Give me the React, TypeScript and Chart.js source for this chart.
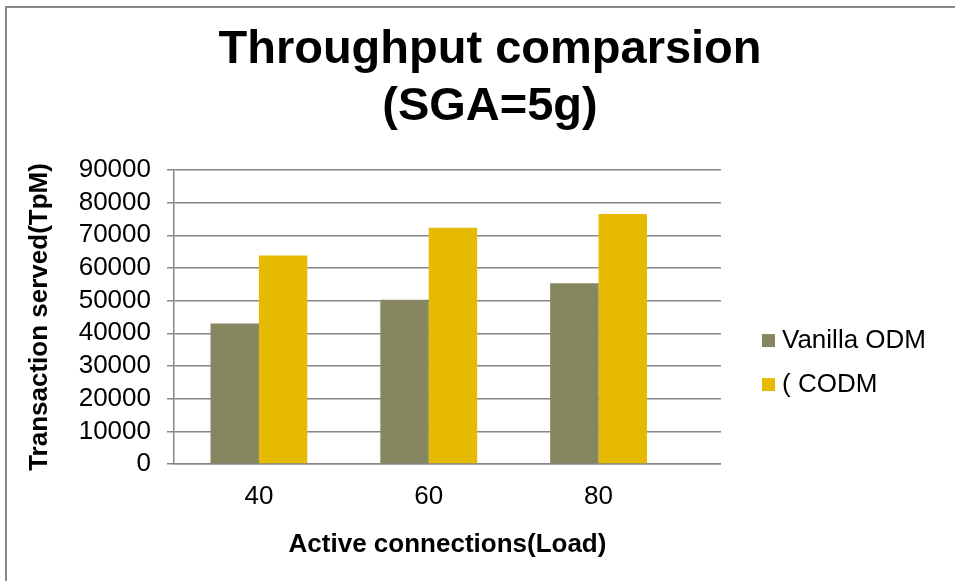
import React, { useEffect, useRef } from 'react';
import { Chart, registerables } from 'chart.js';

Chart.register(...registerables);

const categories = ['40', '60', '80'];
const vanillaODM = [43000, 50300, 55300];
const codm = [63800, 72300, 76500];
const seriesNames = ['Vanilla ODM', '( CODM'];
const titleLines = ['Throughput comparsion', '(SGA=5g)'];
const xTitle = 'Active connections(Load)';
const yTitle = 'Transaction served(TpM)';
const yMin = 0;
const yMax = 90000;
const yStep = 10000;

const FAMILY = "'Liberation Sans', Arial, sans-serif";
const GRID = '#868686';

export default function App() {
  const ref = useRef<HTMLCanvasElement>(null);

  useEffect(() => {
    document.body.style.margin = '0';
    const canvas = ref.current;
    if (!canvas) return;
    const chart = new Chart(canvas, {
      type: 'bar',
      data: {
        datasets: [
          {
            label: seriesNames[0],
            data: vanillaODM.map((v, i) => ({ x: i, y: v })),
            backgroundColor: '#868661',
            borderWidth: 0,
          },
          {
            label: seriesNames[1],
            data: codm.map((v, i) => ({ x: i, y: v })),
            backgroundColor: '#E5BA00',
            borderWidth: 0,
          },
        ],
      },
      options: {
        responsive: false,
        animation: false,
        devicePixelRatio: 1,
        layout: { padding: { left: 44, right: 19, top: 10, bottom: 10 } },
        datasets: { bar: { categoryPercentage: 0.57, barPercentage: 1 } },
        plugins: {
          title: {
            display: true,
            text: titleLines,
            color: '#000',
            font: { family: FAMILY, size: 47, weight: 'bold', lineHeight: 1.22 },
            padding: { top: 11, bottom: 34.3 },
          },
          legend: {
            position: 'right',
            fullSize: false,
            align: 'center',
            maxWidth: 400,
            title: {
              display: true,
              text: '',
              font: { family: FAMILY, size: 26 },
              padding: { top: 30, bottom: 30 },
            },
            labels: {
              usePointStyle: true,
              pointStyle: 'rect',
              boxWidth: 1,
              boxHeight: 13,
              padding: 18,
              color: '#000',
              font: { family: FAMILY, size: 26 },
            },
          },
          tooltip: { enabled: false },
        },
        scales: {
          x: {
            type: 'linear',
            min: -0.5,
            max: 2.721,
            bounds: 'data',
            offset: false,
            afterBuildTicks: (s: any) => {
              s.ticks = categories.map((_, i) => ({ value: i }));
            },
            ticks: {
              callback: (v: any) => categories[v as number] ?? '',
              padding: 17.4,
              color: '#000',
              autoSkip: false,
              maxRotation: 0,
              font: { family: FAMILY, size: 26 },
            },
            grid: { display: false, drawTicks: false },
            border: { display: true, color: GRID, width: 1.5 },
            title: {
              display: true,
              text: xTitle,
              color: '#000',
              font: { family: FAMILY, size: 26, weight: 'bold' },
              padding: { top: -0.6, bottom: 10.4 },
            },
          },
          y: {
            min: yMin,
            max: yMax,
            ticks: {
              stepSize: yStep,
              padding: 16,
              autoSkip: false,
              color: '#000',
              font: { family: FAMILY, size: 26 },
              callback: (v: any) => String(v),
            },
            grid: { color: GRID, lineWidth: 1.5, drawTicks: true, tickLength: 7 },
            border: { color: GRID, width: 1.5 },
            title: {
              display: true,
              text: yTitle,
              color: '#000',
              font: { family: FAMILY, size: 26, weight: 'bold' },
              padding: { top: -19.7, bottom: 7.2 },
            },
          },
          y2: {
            type: 'linear',
            position: 'right',
            display: true,
            grid: { display: false },
            border: { display: false },
            ticks: { display: false },
            afterFit: (s: any) => {
              s.width = 29;
            },
          },
        },
      } as any,
    });
    return () => chart.destroy();
  }, []);

  return (
    <div style={{ position: 'relative', width: 955, height: 581, overflow: 'hidden', background: '#fff' }}>
      <canvas ref={ref} width={955} height={581} style={{ display: 'block' }} />
      <div
        style={{
          position: 'absolute',
          left: 5,
          top: 6,
          width: 980,
          height: 600,
          borderLeft: `2px solid ${GRID}`,
          borderTop: `2px solid ${GRID}`,
          pointerEvents: 'none',
        }}
      />
    </div>
  );
}
